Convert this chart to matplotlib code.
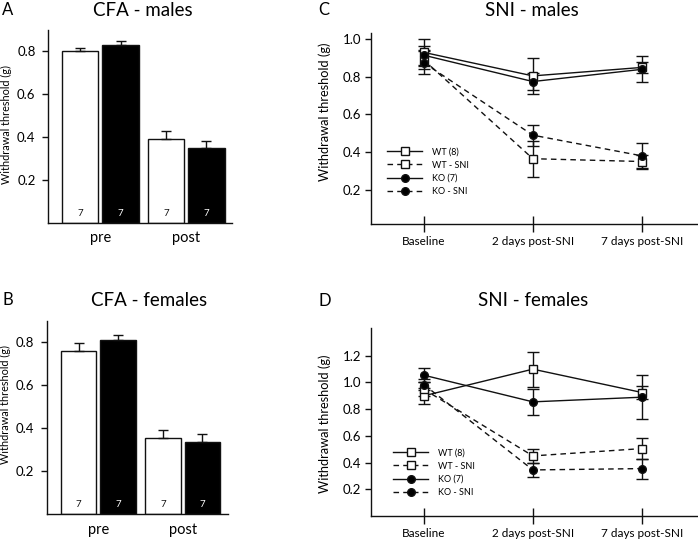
import matplotlib
matplotlib.use('Agg')
import matplotlib.pyplot as plt
import numpy as np

plt.rcParams['font.family'] = ['Lato', 'DejaVu Sans']

# --- data -------------------------------------------------------------
groups = ['pre', 'post']
n_labels = ['7', '7']

cfa_m_wt = [0.800, 0.394]
cfa_m_wt_err = [0.015, 0.037]
cfa_m_ko = [0.832, 0.350]
cfa_m_ko_err = [0.015, 0.031]

cfa_f_wt = [0.760, 0.353]
cfa_f_wt_err = [0.037, 0.041]
cfa_f_ko = [0.811, 0.336]
cfa_f_ko_err = [0.022, 0.037]

timepoints = ['Baseline', '2 days post-SNI', '7 days post-SNI']
series_labels = ['WT (8)', 'WT - SNI', 'KO (7)', 'KO - SNI']

sni_m_wt = [0.930, 0.805, 0.850]
sni_m_wt_err = [0.070, 0.095, 0.030]
sni_m_wt_sni = [0.890, 0.365, 0.350]
sni_m_wt_sni_err = [0.050, 0.095, 0.035]
sni_m_ko = [0.915, 0.775, 0.840]
sni_m_ko_err = [0.050, 0.045, 0.070]
sni_m_ko_sni = [0.875, 0.490, 0.380]
sni_m_ko_sni_err = [0.060, 0.055, 0.068]

sni_f_wt = [0.900, 1.100, 0.925]
sni_f_wt_err = [0.060, 0.130, 0.050]
sni_f_wt_sni = [0.950, 0.450, 0.505]
sni_f_wt_sni_err = [0.050, 0.055, 0.080]
sni_f_ko = [1.055, 0.855, 0.890]
sni_f_ko_err = [0.050, 0.095, 0.165]
sni_f_ko_sni = [0.985, 0.345, 0.355]
sni_f_ko_sni_err = [0.040, 0.055, 0.075]

INK = '#111111'

fig = plt.figure(figsize=(6.98, 5.39), dpi=100)


def style_axes(ax):
    for s in ['top', 'right']:
        ax.spines[s].set_visible(False)
    for s in ['left', 'bottom']:
        ax.spines[s].set_linewidth(1.0)
        ax.spines[s].set_color(INK)


def bar_panel(rect, wt, wt_err, ko, ko_err, ylab_y):
    ax = fig.add_axes(rect)
    style_axes(ax)
    x = np.arange(len(groups))
    off, w = 0.233, 0.42
    ax.bar(x - off, wt, w, color='white', edgecolor=INK, linewidth=1.0,
           yerr=[np.zeros(len(wt)), wt_err], capsize=3.5,
           error_kw=dict(ecolor=INK, elinewidth=1.0, capthick=1.0))
    ax.bar(x + off, ko, w, color='black', edgecolor=INK, linewidth=1.0,
           yerr=[np.zeros(len(ko)), ko_err], capsize=3.5,
           error_kw=dict(ecolor=INK, elinewidth=1.0, capthick=1.0))
    for i in range(len(groups)):
        ax.text(x[i] - off, 0.045, n_labels[i], ha='center', va='center',
                fontsize=7, color=INK)
        ax.text(x[i] + off, 0.045, n_labels[i], ha='center', va='center',
                fontsize=7, color='white')
    ax.set_xlim(-0.61, 1.53)
    ax.set_ylim(0, 0.9)
    ax.set_yticks([0.2, 0.4, 0.6, 0.8])
    ax.set_yticklabels(['0.2', '0.4', '0.6', '0.8'])
    ax.set_xticks(x)
    ax.set_xticklabels(groups)
    ax.tick_params(axis='x', length=0, pad=6, labelsize=10.5)
    ax.tick_params(axis='y', direction='out', length=4, width=1.0,
                   labelsize=9.5, pad=5, color=INK)
    ax.set_ylabel('Withdrawal threshold (g)', fontsize=7.8)
    ax.yaxis.set_label_coords(-0.196, ylab_y)
    return ax


def line_panel(rect, data, ylim, yticks, leg_anchor, ylab_y):
    ax = fig.add_axes(rect)
    style_axes(ax)
    x = np.arange(len(timepoints))
    styles = [('s', 'white', '-'), ('s', 'white', '--'),
              ('o', 'black', '-'), ('o', 'black', '--')]
    handles = []
    for (vals, errs), (mk, fc, ls), lab in zip(data, styles, series_labels):
        ax.errorbar(x, vals, yerr=errs, fmt='none', ecolor=INK,
                    elinewidth=1.0, capsize=4.5, capthick=1.0, zorder=2)
        h, = ax.plot(x, vals, linestyle=ls, color=INK, linewidth=1.0,
                     marker=mk, markersize=5.5, markerfacecolor=fc,
                     markeredgecolor=INK, markeredgewidth=1.0,
                     dashes=(4, 3) if ls == '--' else (None, None),
                     label=lab, zorder=3)
        handles.append(h)
    ax.set_xlim(-0.483, 2.504)
    ax.set_ylim(*ylim)
    ax.set_yticks(yticks)
    ax.set_yticklabels(['%.1f' % v for v in yticks])
    ax.set_xticks(x)
    ax.set_xticklabels(timepoints)
    ax.tick_params(axis='x', direction='inout', length=11, width=1.0,
                   labelsize=8.5, pad=3, color=INK)
    ax.tick_params(axis='y', direction='out', length=4, width=1.0,
                   labelsize=9.5, pad=3, color=INK)
    ax.set_ylabel('Withdrawal threshold (g)', fontsize=9.2)
    ax.yaxis.set_label_coords(-0.123, ylab_y)
    ax.legend(handles=handles, loc='center left', bbox_to_anchor=leg_anchor,
              frameon=False, fontsize=6.5, handlelength=3.9, handletextpad=1.1,
              labelspacing=0.45, borderpad=0, borderaxespad=0)
    return ax


bar_panel([0.0688, 0.5863, 0.2636, 0.358], cfa_m_wt, cfa_m_wt_err,
          cfa_m_ko, cfa_m_ko_err, 0.51)
bar_panel([0.0669, 0.0458, 0.2591, 0.3592], cfa_f_wt, cfa_f_wt_err,
          cfa_f_ko, cfa_f_ko_err, 0.567)

line_panel([0.5315, 0.5844, 0.4671, 0.3544],
           [(sni_m_wt, sni_m_wt_err), (sni_m_wt_sni, sni_m_wt_sni_err),
            (sni_m_ko, sni_m_ko_err), (sni_m_ko_sni, sni_m_ko_sni_err)],
           (0.018, 1.033), [0.2, 0.4, 0.6, 0.8, 1.0], (0.049, 0.274), 0.59)
line_panel([0.5315, 0.0427, 0.4671, 0.3482],
           [(sni_f_wt, sni_f_wt_err), (sni_f_wt_sni, sni_f_wt_sni_err),
            (sni_f_ko, sni_f_ko_err), (sni_f_ko_sni, sni_f_ko_sni_err)],
           (0, 1.406), [0.2, 0.4, 0.6, 0.8, 1.0, 1.2], (0.068, 0.231), 0.49)

# panel titles and letters
fig.text(142.5 / 698, 1 - 10 / 539, 'CFA - males', ha='center', va='center', fontsize=13.5)
fig.text(149.5 / 698, 1 - 300 / 539, 'CFA - females', ha='center', va='center', fontsize=13.5)
fig.text(532 / 698, 1 - 10 / 539, 'SNI - males', ha='center', va='center', fontsize=13.5)
fig.text(533 / 698, 1 - 301 / 539, 'SNI - females', ha='center', va='center', fontsize=13.5)
fig.text(2 / 698, 1 - 10 / 539, 'A', ha='left', va='center', fontsize=12)
fig.text(2 / 698, 1 - 300 / 539, 'B', ha='left', va='center', fontsize=12)
fig.text(318 / 698, 1 - 10 / 539, 'C', ha='left', va='center', fontsize=12)
fig.text(318 / 698, 1 - 301 / 539, 'D', ha='left', va='center', fontsize=12)

fig.savefig('out.png', dpi=100)
